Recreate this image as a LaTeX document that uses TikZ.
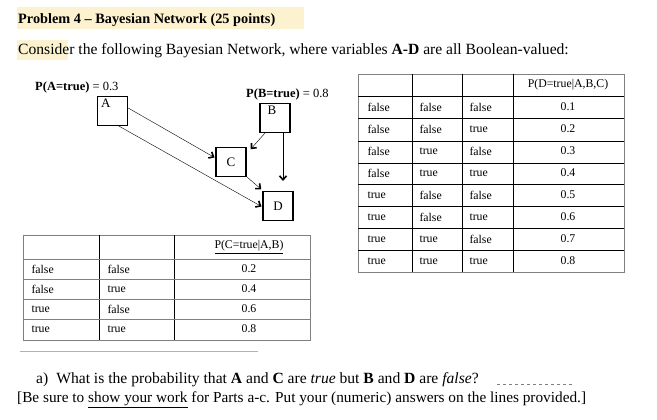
\documentclass[tikz,border=0pt]{standalone}
\usepackage{fontspec}
\setmainfont{Liberation Serif}
\usetikzlibrary{arrows.meta}
\definecolor{hl}{RGB}{253,242,208}
\begin{document}
\begin{tikzpicture}[x=1pt,y=-1pt,
 box/.style={draw,line width=1.2pt,minimum width=30pt,minimum height=29pt,inner sep=0pt,font=\fontsize{13}{15}\selectfont},
 arr/.style={line width=0.4pt,-{Straight Barb[length=4pt,width=7pt,line width=1.6pt]},shorten >=1pt},
 cellt/.style={font=\fontsize{11.8}{13}\selectfont},
 lbl/.style={font=\fontsize{12.5}{14}\selectfont,inner sep=0pt}]
\useasboundingbox (0,0) rectangle (657,420);
\fill[white] (0,0) rectangle (657,420);
\fill[hl] (17,7) rectangle (304,29);
\fill[hl] (17,40) rectangle (68,60);
\node[anchor=base west,inner sep=0pt,font=\fontsize{14.3}{16}\selectfont\bfseries] (title) at (18,24) {Problem 4 – Bayesian Network (25 points)};
\node[anchor=base west,inner sep=0pt,font=\fontsize{15.6}{18}\selectfont] (intro) at (18,55) {Consider the following Bayesian Network, where variables \textbf{A-D} are all Boolean-valued:};
% nodes
\node[box,anchor=north west] (A) at (97,96) {};
\node[anchor=north west,inner sep=0pt,font=\fontsize{13}{15}\selectfont] (Al) at (101,99) {A};
\node[box] (B) at (275,118) {};
\node[anchor=north,inner sep=0pt,font=\fontsize{13}{15}\selectfont] (Bl) at (272,106) {B};
\node[box] (C) at (231,162) {C};
\node[box] (D) at (278,206) {D};
\node[lbl,anchor=base west] (pa) at (35,91) {\textbf{P(A=true)} = 0.3};
\node[lbl,anchor=base west] (pb) at (246,98) {\textbf{P(B=true)} = 0.8};
\draw[arr] (A.east|-0,108) -- (C.west|-0,158);
\draw[arr] (117,125) -- (D.west|-0,207);
\draw[arr] (265,133) -- (250,150);
\coordinate (bd) at (283,182);
\draw[arr] (283,133) -- (bd);
\draw[arr] (247,177) -- (262,190);
% right table
\draw[gray,line width=0.6pt] (358,74) rectangle (624,272);
\foreach \x in {412,462,513} \draw (\x,74) -- (\x,272);
\foreach \y in {96,118,141,163,184,206,228,250} \draw (358,\y) -- (624,\y);
\node[cellt] (dh) at (568,85) {P(D=true|A,B,C)};
\foreach \a/\b/\c/\p [count=\i] in {false/false/false/0.1,false/false/true/0.2,false/true/false/0.3,false/true/true/0.4,true/false/false/0.5,true/false/true/0.6,true/true/false/0.7,true/true/true/0.8}{
 \pgfmathsetmacro\yy{96+(\i-0.5)*22}
 \node[cellt,anchor=west] at (364,\yy) {\a};
 \node[cellt,anchor=west] at (416,\yy) {\b};
 \node[cellt,anchor=west] at (466,\yy) {\c};
 \node[cellt] at (568,\yy) {\p};
}
% left table
\draw[gray,line width=0.6pt] (23,235) rectangle (310,340);
\foreach \x in {99,174} \draw (\x,235) -- (\x,340);
\foreach \y in {259,279,299,319} \draw[gray] (23,\y) -- (310,\y);
\node[cellt] (ch) at (249,247) {\underline{P(C=true|A,B)}};
\foreach \a/\b/\p [count=\i] in {false/false/0.2,false/true/0.4,true/false/0.6,true/true/0.8}{
 \pgfmathsetmacro\yy{259+(\i-0.5)*20}
 \node[cellt,anchor=west] at (28,\yy) {\a};
 \node[cellt,anchor=west] at (104,\yy) {\b};
 \node[cellt] at (249,\yy) {\p};
}
\draw[gray!60] (20,351) -- (258,351);
\node[anchor=base west,inner sep=0pt,font=\fontsize{15.6}{18}\selectfont] (qa) at (36,383) {a)\hspace{8pt}What is the probability that \textbf{A} and \textbf{C} are \textit{true} but \textbf{B} and \textbf{D} are \textit{false}?};
\draw[gray,dashed,line width=0.4pt] (497,384) -- (573,384);
\node[anchor=base west,inner sep=0pt,font=\fontsize{15.3}{18}\selectfont] (qb) at (17,402) {[Be sure to \underline{show your work} for Parts a-c. Put your (numeric) answers on the lines provided.]};
\end{tikzpicture}
\end{document}
